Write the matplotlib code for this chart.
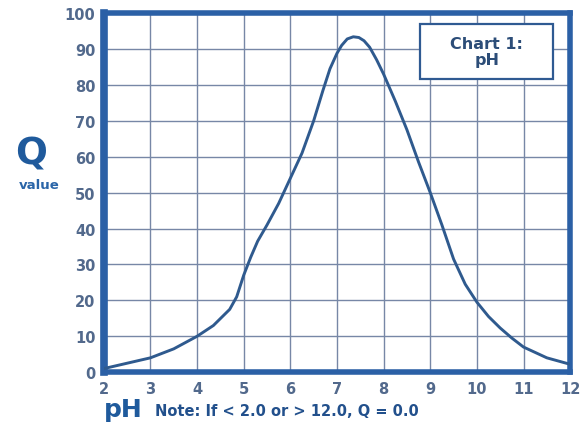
import numpy as np
import matplotlib
matplotlib.use("Agg")
import matplotlib.pyplot as plt
import matplotlib.patches as patches

# values
ph = [2.0, 2.5, 3.0, 3.5, 4.0, 4.35, 4.7, 4.85, 5.0, 5.15, 5.3, 5.5, 5.75, 6.0, 6.25,
      6.5, 6.7, 6.85, 7.0, 7.1, 7.22, 7.35, 7.47, 7.58, 7.7, 7.85, 8.0, 8.25, 8.5,
      8.75, 9.0, 9.25, 9.5, 9.75, 10.0, 10.25, 10.5, 10.75, 11.0, 11.5, 12.0]
q = [1.0, 2.5, 4.0, 6.5, 10.0, 13.0, 17.5, 21.0, 27.0, 32.0, 36.5, 41.0, 47.0, 54.0, 61.0,
     70.0, 78.5, 84.5, 88.8, 91.0, 92.8, 93.4, 93.2, 92.3, 90.5, 87.0, 83.0, 75.5, 67.5,
     58.5, 50.0, 41.0, 31.5, 24.5, 19.5, 15.5, 12.3, 9.5, 7.0, 4.0, 2.2]
xticks = list(range(2, 13))
yticks = list(range(0, 101, 10))

plt.rcParams['font.family'] = ['DejaVu Sans']

navy = '#2b60a6'
gridc = '#7787a6'
tickc = '#52698c'

fig = plt.figure(figsize=(5.83, 4.27), dpi=100)
ax = fig.add_axes([0.178, 0.126, 0.800, 0.841])

ax.plot(ph, q, color='#2f5a8e', lw=2.1, solid_capstyle='round', solid_joinstyle='round', zorder=3)

ax.set_xlim(2, 12)
ax.set_ylim(0, 100)
ax.set_xticks(xticks)
ax.set_yticks(yticks)
ax.grid(True, color=gridc, lw=1.0)
ax.tick_params(length=0, labelsize=10.5, labelcolor=tickc, pad=6)
for lab in ax.get_xticklabels() + ax.get_yticklabels():
    lab.set_fontweight('bold')

for s in ax.spines.values():
    s.set_color(navy)
    s.set_linewidth(4)
ax.spines['left'].set_linewidth(5.5)

# box label in the top right corner
box = patches.Rectangle((0.678, 0.816), 0.2855, 0.153, transform=ax.transAxes,
                        fc='white', ec='#2f5a92', lw=1.6, zorder=5)
ax.add_patch(box)
ax.text(0.821, 0.893, 'Chart 1:\npH', transform=ax.transAxes, ha='center', va='center',
        fontsize=11.5, fontweight='bold', color='#2c4d78', linespacing=1.1, zorder=6)

# axis captions
fig.text(0.053, 0.614, 'Q', fontsize=27, fontweight='bold', color='#1f5a9c', ha='center', va='baseline')
fig.text(0.067, 0.566, 'value', fontsize=9.5, fontweight='bold', color='#2a65a8', ha='center', va='center')
fig.text(0.178, 0.040, 'pH', fontsize=18, fontweight='bold', color='#1f5a9c', ha='left', va='center')
fig.text(0.266, 0.037, 'Note: If < 2.0 or > 12.0, Q = 0.0', fontsize=10.5, fontweight='bold',
         color='#22508c', ha='left', va='center')

fig.savefig('out.png', dpi=100)
